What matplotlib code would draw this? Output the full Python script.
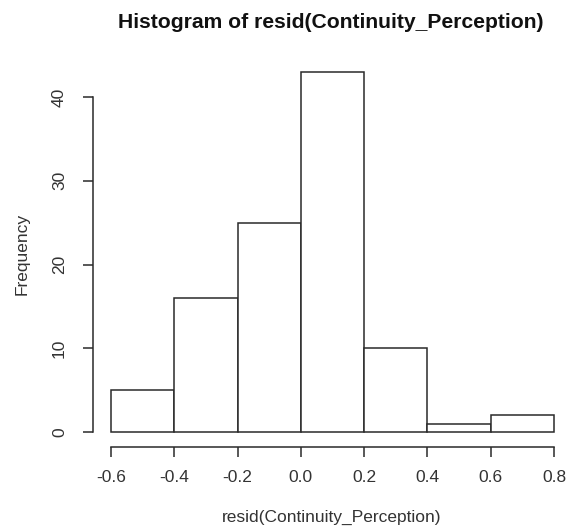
import matplotlib
matplotlib.use("Agg")
import matplotlib.pyplot as plt

# Histogram bins and counts of the model residuals
bin_edges = [-0.6, -0.4, -0.2, 0.0, 0.2, 0.4, 0.6, 0.8]
counts = [5, 16, 25, 43, 10, 1, 2]
x_ticks = [-0.6, -0.4, -0.2, 0.0, 0.2, 0.4, 0.6, 0.8]
x_tick_labels = ["-0.6", "-0.4", "-0.2", "0.0", "0.2", "0.4", "0.6", "0.8"]
y_ticks = [0, 10, 20, 30, 40]

W, H = 566, 530
fig = plt.figure(figsize=(W / 100, H / 100), dpi=100)
plt.rcParams["font.family"] = ["Liberation Sans", "DejaVu Sans"]

# plot region in pixels (R-style, 4% padding around the data range)
left_px, right_px = 93, 566
top_px, bottom_px = 57.5, 446.5
ax = fig.add_axes([left_px / W, 1 - bottom_px / H,
                   (right_px - left_px) / W, (bottom_px - top_px) / H])

px_per_unit = (554 - 111) / 1.4
ax.set_xlim(-0.6 - (111 - left_px) / px_per_unit,
            0.8 + (right_px - 554) / px_per_unit)
ax.set_ylim(-1.72, 44.72)

line_col = "#2a2a2a"
widths = [b - a for a, b in zip(bin_edges[:-1], bin_edges[1:])]
ax.bar(bin_edges[:-1], counts, width=widths, align="edge",
       facecolor="white", edgecolor=line_col, linewidth=1.1)

for s in ("top", "right"):
    ax.spines[s].set_visible(False)
ax.spines["left"].set_bounds(0, 40)
ax.spines["bottom"].set_bounds(-0.6, 0.8)
for s in ("left", "bottom"):
    ax.spines[s].set_color(line_col)
    ax.spines[s].set_linewidth(1.1)

ax.set_xticks(x_ticks)
ax.set_xticklabels(x_tick_labels)
ax.set_yticks(y_ticks)
ax.set_yticklabels([str(v) for v in y_ticks], rotation=90, va="center")
ax.tick_params(axis="both", colors=line_col, labelcolor="#333333",
               labelsize=12.5, length=7.2, width=1.1)
ax.tick_params(axis="x", pad=9.5)
ax.tick_params(axis="y", pad=11.5)

fig.text(331 / W, 1 - 22 / H, "Histogram of resid(Continuity_Perception)",
         ha="center", va="center", fontsize=15.2, fontweight="bold", color="#111111")
fig.text(332 / W, 1 - 517 / H, "resid(Continuity_Perception)",
         ha="center", va="center", fontsize=12.5, color="#333333")
fig.text(22 / W, 1 - 254 / H, "Frequency", rotation=90,
         ha="center", va="center", fontsize=12.5, color="#333333")

fig.savefig("out.png", dpi=100)
